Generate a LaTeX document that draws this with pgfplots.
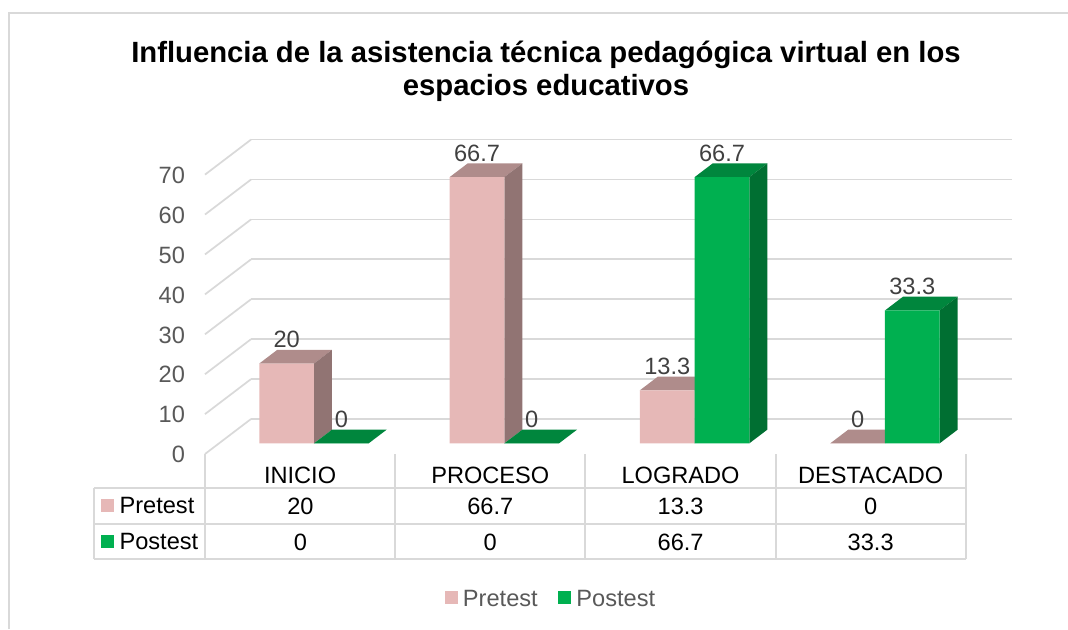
\documentclass[border=0pt]{standalone}
\usepackage{pgfplots}
\usepackage{fontspec}
\setmainfont{Liberation Sans}
\pgfplotsset{compat=1.18}
\definecolor{pinkF}{HTML}{E6B8B7}
\definecolor{pinkT}{HTML}{AF8C8B}
\definecolor{pinkS}{HTML}{917473}
\definecolor{greenF}{HTML}{00B050}
\definecolor{greenT}{HTML}{00863D}
\definecolor{greenS}{HTML}{006F32}
\definecolor{gridc}{HTML}{D9D9D9}
\definecolor{lab}{HTML}{595959}
\definecolor{dlab}{HTML}{404040}
\newcommand{\fs}{\fontsize{17.7pt}{21pt}\selectfont}
\begin{document}
\begin{tikzpicture}[x=0.75pt,y=-0.75pt]
\useasboundingbox (0,0) rectangle (1068,629);
% chart frame
\draw[gridc,line width=1.5pt] (9,629) -- (9,13) -- (1068,13);
% side wall lines
\foreach \k in {0,...,7}{\draw[gridc,line width=1.3pt] (205,454-39.91*\k) -- ++(46,-35);}
% table
\foreach \xx in {205,395.1,585.4,775.7,965.7}{\draw[gridc,line width=1.5pt] (\xx,454) -- (\xx,559.3);}
\draw[gridc,line width=1.5pt] (94,488.3) -- (965.7,488.3) (94,524) -- (965.7,524) (94,559.3) -- (965.7,559.3) (94,488.3) -- (94,559.3);
\fill[pinkF] (101,499) rectangle (114,512);
\fill[greenF] (101,535) rectangle (114,548);
\node[anchor=base west,inner sep=0pt,font=\fs] at (119.3,513.2) {Pretest};
\node[anchor=base west,inner sep=0pt,font=\fs] at (119.3,549.2) {Postest};
\foreach \xx/\a/\b in {300.5/20/0,490.3/66.7/0,680.6/13.3/66.7,870.7/0/33.3}{
  \node[anchor=base,inner sep=0pt,font=\fs] at (\xx,514) {\a};
  \node[anchor=base,inner sep=0pt,font=\fs] at (\xx,550) {\b};
}
\begin{axis}[
  at={(153.75pt,-340.5pt)},anchor=south west,
  scale only axis,width=570.5pt,height=209.55pt,
  xmin=205,xmax=965.7,ymin=0,ymax=70,clip=false,
  axis line style={draw=none},
  tick style={draw=none},
  ytick={0,10,...,70},
  xtick={300.1,490.3,680.6,870.7},
  xticklabels={INICIO,PROCESO,LOGRADO,DESTACADO},
  /pgf/number format/assume math mode=true,
  ymajorgrids,
  grid style={gridc,line width=1.3pt,xshift=34.5pt,yshift=26.25pt},
  yticklabel style={font=\fs,text=lab,anchor=east,xshift=-11.5pt,yshift=-0.5pt},
  xticklabel style={font=\fs,text=black,anchor=base,yshift=-22pt},
  title={Influencia de la asistencia técnica pedagógica virtual en los\\espacios educativos},
  title style={at={(0.4483,1.342)},anchor=center,align=center,font=\fontsize{21.95pt}{25pt}\selectfont\bfseries},
  legend style={at={(0.3155,-0.521)},anchor=west,draw=none,fill=none,legend columns=2,
    font=\fs,text=lab,inner sep=0pt,outer sep=0pt,/tikz/every even column/.style={column sep=13.5pt}},
  legend cell align=left,
  every node near coord/.append style={font=\fs,text=dlab,anchor=center,yshift=17.8pt},
]
% ---- Pretest: top and side faces
\addplot[fill=pinkT,draw=none,yshift=8pt,forget plot] coordinates {(259.3,20)(314,20)(332,23.43)(277.3,23.43)} -- cycle;
\addplot[fill=pinkS,draw=none,yshift=8pt,forget plot] coordinates {(314,0)(332,3.43)(332,23.43)(314,20)} -- cycle;
\addplot[fill=pinkT,draw=none,yshift=8pt,forget plot] coordinates {(449.65,66.7)(504.35,66.7)(522.35,70.13)(467.65,70.13)} -- cycle;
\addplot[fill=pinkS,draw=none,yshift=8pt,forget plot] coordinates {(504.35,0)(522.35,3.43)(522.35,70.13)(504.35,66.7)} -- cycle;
\addplot[fill=pinkT,draw=none,yshift=8pt,forget plot] coordinates {(639.95,13.3)(694.65,13.3)(712.65,16.73)(657.95,16.73)} -- cycle;
\addplot[fill=pinkS,draw=none,yshift=8pt,forget plot] coordinates {(694.65,0)(712.65,3.43)(712.65,16.73)(694.65,13.3)} -- cycle;
\addplot[fill=pinkT,draw=none,yshift=8pt,forget plot] coordinates {(830.3,0)(885,0)(903,3.43)(848.3,3.43)} -- cycle;
% ---- Pretest: front faces
\addplot[ybar,bar width=41pt,bar shift=0pt,fill=pinkF,draw=none,yshift=8pt,
  nodes near coords,
  legend image code/.code={\fill[pinkF] (0pt,-11.65pt) rectangle (9.75pt,-1.85pt);\path (11.5pt,0pt);}]
  coordinates {(286.65,20)(477,66.7)(667.3,13.3)(857.65,0)};
\addlegendentry{Pretest}
% ---- Postest: top and side faces
\addplot[fill=greenT,draw=none,yshift=8pt,forget plot] coordinates {(314,0)(368.7,0)(386.7,3.43)(332,3.43)} -- cycle;
\addplot[fill=greenT,draw=none,yshift=8pt,forget plot] coordinates {(504.35,0)(559.05,0)(577.05,3.43)(522.35,3.43)} -- cycle;
\addplot[fill=greenT,draw=none,yshift=8pt,forget plot] coordinates {(694.65,66.7)(749.35,66.7)(767.35,70.13)(712.65,70.13)} -- cycle;
\addplot[fill=greenS,draw=none,yshift=8pt,forget plot] coordinates {(749.35,0)(767.35,3.43)(767.35,70.13)(749.35,66.7)} -- cycle;
\addplot[fill=greenT,draw=none,yshift=8pt,forget plot] coordinates {(885,33.3)(939.7,33.3)(957.7,36.73)(903,36.73)} -- cycle;
\addplot[fill=greenS,draw=none,yshift=8pt,forget plot] coordinates {(939.7,0)(957.7,3.43)(957.7,36.73)(939.7,33.3)} -- cycle;
% ---- Postest: front faces
\addplot[ybar,bar width=41pt,bar shift=0pt,fill=greenF,draw=none,yshift=8pt,
  nodes near coords,
  legend image code/.code={\fill[greenF] (0pt,-11.65pt) rectangle (9.75pt,-1.85pt);\path (11.5pt,0pt);}]
  coordinates {(341.35,0)(531.7,0)(722,66.7)(912.35,33.3)};
\addlegendentry{Postest}
\end{axis}
\end{tikzpicture}
\end{document}
